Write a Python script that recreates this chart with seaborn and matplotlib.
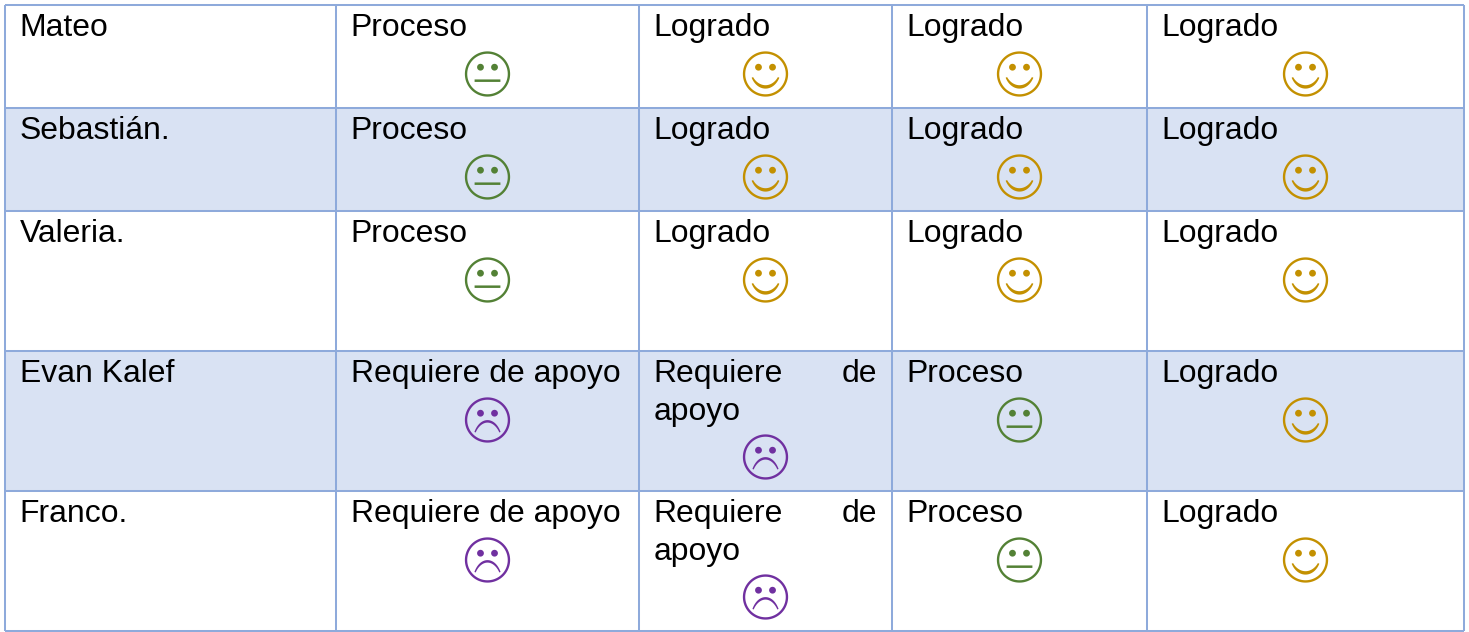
import numpy as np
import pandas as pd
import matplotlib.pyplot as plt
from matplotlib.path import Path
import seaborn as sns

# Datos de la tabla
alumnos = ["Mateo", "Sebastián.", "Valeria.", "Evan Kalef", "Franco."]
eval_1 = ["Proceso", "Proceso", "Proceso", "Requiere de apoyo", "Requiere de apoyo"]
eval_2 = ["Logrado", "Logrado", "Logrado", "Requiere de apoyo", "Requiere de apoyo"]
eval_3 = ["Logrado", "Logrado", "Logrado", "Proceso", "Proceso"]
eval_4 = ["Logrado", "Logrado", "Logrado", "Logrado", "Logrado"]
evaluaciones = [eval_1, eval_2, eval_3, eval_4]

# Disposicion en pixeles
COL_EDGES = [5, 336, 639, 892, 1147, 1464]
ROW_EDGES = [5, 108, 211, 351, 491, 631]
PAD_X = 14.6
BASELINE = 31
LINE_H = 38
FACE_DY = 69
FONT_SIZE = 22.95
BORDER = "#8EAADB"
BAND = "#D9E2F3"
COLORS = {"Logrado": "#C39000", "Proceso": "#538135", "Requiere de apoyo": "#7030A0"}


def disc(cx, cy, r, reverse=False):
    t = np.linspace(0, 2 * np.pi, 90)
    if reverse:
        t = t[::-1]
    return np.column_stack([cx + r * np.cos(t), cy + r * np.sin(t)])


def curved_mouth(half_w, y_end, y_mid, tip, mid, a=0.85):
    # trazo en arco de circulo con grosor variable sobre su normal
    u = np.linspace(-1, 1, 60)
    x = half_w * u
    base = np.sqrt(1 - a ** 2)
    y = y_end + (y_mid - y_end) * (np.sqrt(1 - (a * u) ** 2) - base) / (1 - base)
    dx, dy = np.gradient(x), np.gradient(y)
    norm = np.hypot(dx, dy)
    nx, ny = -dy / norm, dx / norm
    t = (tip + (mid - tip) * (1 - u ** 2)) / 2
    upper = np.column_stack([x + nx * t, y + ny * t])
    lower = np.column_stack([x - nx * t, y - ny * t])[::-1]
    return np.vstack([upper, lower, upper[:1]])


def face_marker(mouth):
    parts = [disc(0, 0, 1), disc(0, 0, 0.895, reverse=True),
             disc(-0.31, 0.3, 0.15), disc(0.31, 0.3, 0.15), mouth]
    return Path.make_compound_path(*[Path(p, closed=True) for p in parts])


neutral = np.array([[-0.57, -0.24], [0.57, -0.24], [0.57, -0.35], [-0.57, -0.35], [-0.57, -0.24]])
MARKERS = {
    "Logrado": face_marker(curved_mouth(0.58, -0.15, -0.57, 0.07, 0.15)),
    "Proceso": face_marker(neutral),
    "Requiere de apoyo": face_marker(curved_mouth(0.55, -0.54, -0.06, 0.06, 0.11)),
}

sns.set_theme(style="white")
plt.rcParams["font.family"] = ["Liberation Sans", "DejaVu Sans"]

fig = plt.figure(figsize=(14.69, 6.32), dpi=100)
ax = fig.add_axes([0, 0, 1, 1])

# Filas sombreadas
for i in [1, 3]:
    ax.fill_between(COL_EDGES[::5], ROW_EDGES[i], ROW_EDGES[i + 1], color=BAND, lw=0, zorder=0)

ax.hlines(ROW_EDGES, COL_EDGES[0], COL_EDGES[-1], color=BORDER, lw=1.45, zorder=1)
ax.vlines(COL_EDGES, ROW_EDGES[0], ROW_EDGES[-1], color=BORDER, lw=1.45, zorder=1)

rows = []
for r, nombre in enumerate(alumnos):
    top = ROW_EDGES[r]
    ax.text(COL_EDGES[0] + PAD_X, top + BASELINE, nombre, fontsize=FONT_SIZE, va="baseline", color="black")
    for c, columna in enumerate(evaluaciones):
        estado = columna[r]
        left, right = COL_EDGES[c + 1], COL_EDGES[c + 2]
        lines = 1
        if estado == "Requiere de apoyo" and c == 1:
            # texto justificado en dos lineas
            ax.text(left + PAD_X, top + BASELINE, "Requiere", fontsize=FONT_SIZE, va="baseline", color="black")
            ax.text(right - PAD_X, top + BASELINE, "de", fontsize=FONT_SIZE, va="baseline", ha="right", color="black")
            ax.text(left + PAD_X, top + BASELINE + LINE_H, "apoyo", fontsize=FONT_SIZE, va="baseline", color="black")
            lines = 2
        else:
            ax.text(left + PAD_X, top + BASELINE, estado, fontsize=FONT_SIZE, va="baseline", color="black")
        rows.append({"x": (left + right) / 2, "y": top + FACE_DY + (lines - 1) * 37, "estado": estado})

df = pd.DataFrame(rows)
sns.scatterplot(data=df, x="x", y="y", hue="estado", style="estado", palette=COLORS,
                markers=MARKERS, s=32.6 ** 2, linewidth=0, legend=False, ax=ax, zorder=3)

ax.set_xlim(0, 1469)
ax.set_ylim(632, 0)
ax.axis("off")

fig.savefig("out.png", dpi=100, facecolor="white")
